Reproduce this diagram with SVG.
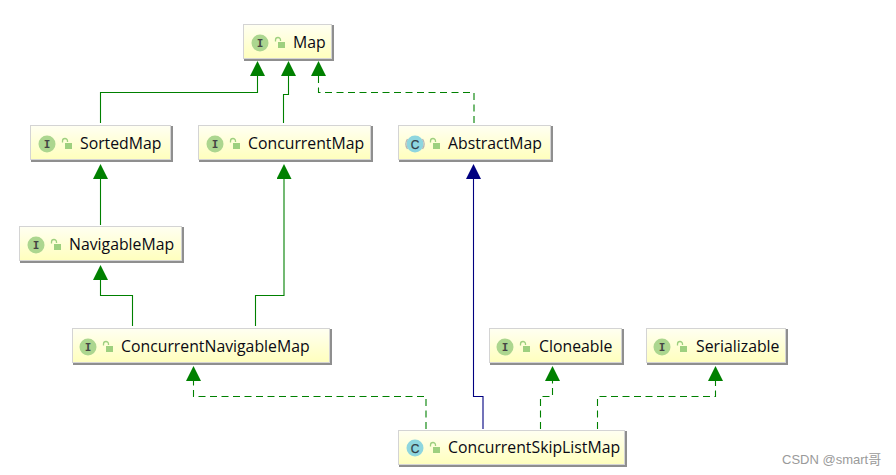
<svg xmlns="http://www.w3.org/2000/svg" width="896" height="475" viewBox="0 0 896 475">
<style>
.box{fill:url(#g);stroke:#d4d4d4;stroke-width:1}
.sh{fill:none;stroke:#8f8f8f;stroke-width:2}
.t{font-family:"Open Sans","Noto Sans",sans-serif;font-size:15.8px;fill:#0a0a14}
.ic{fill:#acd68f}.cc{fill:#8ed6df}
.il{font-family:"DejaVu Sans Mono",monospace;font-size:11px;font-weight:bold;fill:#444;text-anchor:middle}
.cl{font-family:"Liberation Sans",sans-serif;font-size:12px;fill:#333f48;stroke:#333f48;stroke-width:.25;text-anchor:middle}
.lock{fill:none;stroke:#9ed07f;stroke-width:1.3}
.lk{fill:#9ed07f}
.s{fill:none;stroke:#008000;stroke-width:1.1}
.d{stroke-dasharray:7 4.5}
.n{fill:none;stroke:#000080;stroke-width:1.1}
.wm{font-family:"Liberation Sans",sans-serif;font-size:13px;fill:#9a9a9a}
</style>
<defs>
<linearGradient id="g" x1="0" y1="0" x2="0" y2="1"><stop offset="0" stop-color="#fffff2"/><stop offset="1" stop-color="#ffffbd"/></linearGradient>
<marker id="ag" markerUnits="userSpaceOnUse" markerWidth="16" markerHeight="16" refX="0" refY="7.5" orient="auto" viewBox="0 0 16 16"><path d="M0 0L15 7.500L0 15Z" fill="#008000"/></marker>
<marker id="an" markerUnits="userSpaceOnUse" markerWidth="16" markerHeight="16" refX="0" refY="7.5" orient="auto" viewBox="0 0 16 16"><path d="M0 0L15 7.500L0 15Z" fill="#000080"/></marker>
<g id="lk"><path class="lock" d="M-4.500 -1.500v-1.500a2.500 2.500 0 0 1 5 0v1"/><rect class="lk" x="-2" y="-1" width="7" height="6"/></g>
</defs>
<rect width="896" height="475" fill="#fff"/>
<g id="connectors">
<path class="s" d="M100.500 123V92.500H257.500V76" marker-end="url(#ag)"/>
<path class="s" d="M283.500 123V94.500H288.500V76" marker-end="url(#ag)"/>
<path class="s d" d="M474 123V92.500H318.500V76" marker-end="url(#ag)"/>
<path class="s" d="M100.500 225V179" marker-end="url(#ag)"/>
<path class="s" d="M132.500 326V295.500H100.500V280" marker-end="url(#ag)"/>
<path class="s" d="M255.500 326V295.500H284V179" marker-end="url(#ag)"/>
<path class="n" d="M483 429V396.500H473.500V179" marker-end="url(#an)"/>
<path class="s d" d="M426 429V396.500H193.500V381" marker-end="url(#ag)"/>
<path class="s d" d="M540.500 429V396.500H552.500V381" marker-end="url(#ag)"/>
<path class="s d" d="M597.500 429V396.500H715.500V381" marker-end="url(#ag)"/>
</g>
<g id="node-map"><rect class="sh" x="245" y="26" width="88" height="34"/><rect class="box" x="243.500" y="24.500" width="88" height="34"/><circle class="ic" cx="260" cy="43" r="8.500"/><text class="il" x="260" y="47">I</text><use href="#lk" x="280" y="43"/><text class="t" x="293" y="48">Map</text></g>
<g id="node-sortedmap"><rect class="sh" x="32" y="127" width="140" height="34"/><rect class="box" x="30.500" y="125.500" width="140" height="34"/><circle class="ic" cx="47" cy="144" r="8.500"/><text class="il" x="47" y="148">I</text><use href="#lk" x="67" y="144"/><text class="t" x="80" y="149">SortedMap</text></g>
<g id="node-concurrentmap"><rect class="sh" x="200" y="127" width="172" height="34"/><rect class="box" x="198.500" y="125.500" width="172" height="34"/><circle class="ic" cx="215" cy="144" r="8.500"/><text class="il" x="215" y="148">I</text><use href="#lk" x="235" y="144"/><text class="t" x="248" y="149">ConcurrentMap</text></g>
<g id="node-abstractmap"><rect class="sh" x="400" y="127" width="152" height="34"/><rect class="box" x="398.500" y="125.500" width="152" height="34"/><circle class="cc" cx="415" cy="144" r="8.500"/><text x="415" y="148.500" class="cl">C</text><path d="M407.500 139a9 9 0 0 0 0 10M422.500 139a9 9 0 0 1 0 10" fill="none" stroke="#b5b5b5" stroke-width="1.300"/><use href="#lk" x="435" y="144"/><text class="t" x="448" y="149">AbstractMap</text></g>
<g id="node-navigablemap"><rect class="sh" x="21" y="228" width="162" height="34"/><rect class="box" x="19.500" y="226.500" width="162" height="34"/><circle class="ic" cx="36" cy="245" r="8.500"/><text class="il" x="36" y="249">I</text><use href="#lk" x="56" y="245"/><text class="t" x="69" y="250">NavigableMap</text></g>
<g id="node-concurrentnavigablemap"><rect class="sh" x="74" y="330" width="257" height="34"/><rect class="box" x="72.500" y="328.500" width="257" height="34"/><circle class="ic" cx="88" cy="347" r="8.500"/><text class="il" x="88" y="351">I</text><use href="#lk" x="108" y="347"/><text class="t" x="121" y="352">ConcurrentNavigableMap</text></g>
<g id="node-cloneable"><rect class="sh" x="491" y="330" width="132" height="34"/><rect class="box" x="489.500" y="328.500" width="132" height="34"/><circle class="ic" cx="505" cy="347" r="8.500"/><text class="il" x="505" y="351">I</text><use href="#lk" x="525" y="347"/><text class="t" x="539" y="352">Cloneable</text></g>
<g id="node-serializable"><rect class="sh" x="648" y="330" width="139" height="34"/><rect class="box" x="646.500" y="328.500" width="139" height="34"/><circle class="ic" cx="662" cy="347" r="8.500"/><text class="il" x="662" y="351">I</text><use href="#lk" x="682" y="347"/><text class="t" x="696" y="352">Serializable</text></g>
<g id="node-concurrentskiplistmap"><rect class="sh" x="400" y="432" width="226" height="34"/><rect class="box" x="398.500" y="430.500" width="226" height="34"/><circle class="cc" cx="415" cy="448" r="8.500"/><text x="415" y="452.500" class="cl">C</text><use href="#lk" x="435" y="448"/><text class="t" x="448" y="453">ConcurrentSkipListMap</text></g>
<text class="wm" x="782" y="464">CSDN @smart<tspan font-family="'Noto Sans CJK SC',sans-serif">哥</tspan></text>
</svg>
